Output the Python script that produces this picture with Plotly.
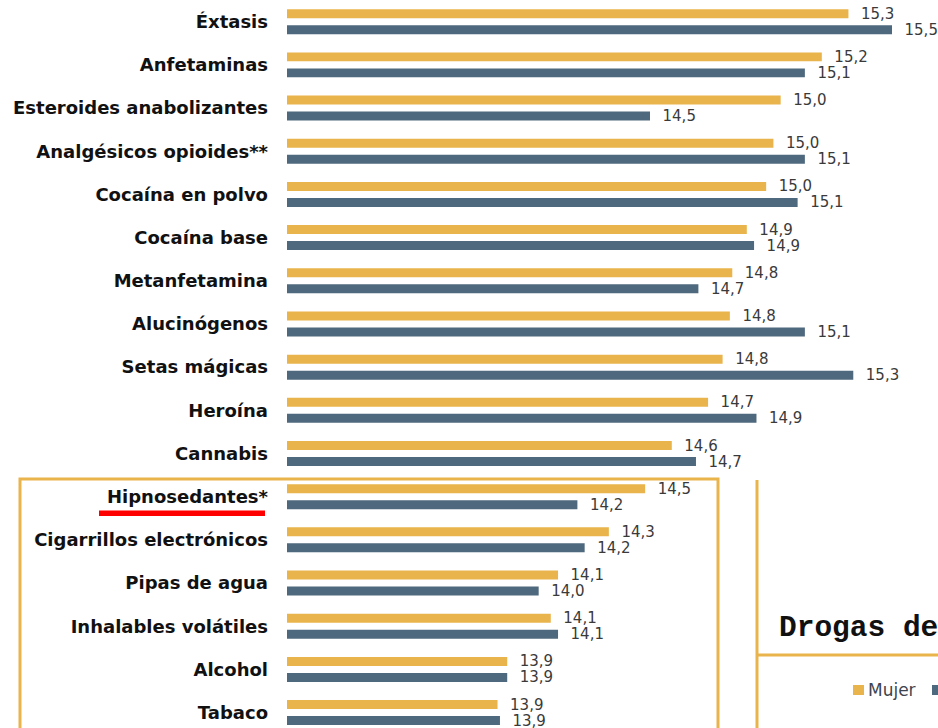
import plotly.graph_objects as go

# ---------------- data ----------------
categories = [
    "Éxtasis", "Anfetaminas", "Esteroides anabolizantes", "Analgésicos opioides**",
    "Cocaína en polvo", "Cocaína base", "Metanfetamina", "Alucinógenos",
    "Setas mágicas", "Heroína", "Cannabis", "Hipnosedantes*",
    "Cigarrillos electrónicos", "Pipas de agua", "Inhalables volátiles",
    "Alcohol", "Tabaco",
]
mujer = [15.32, 15.21, 15.04, 15.01, 14.98, 14.90, 14.84, 14.83, 14.80, 14.74,
         14.59, 14.48, 14.33, 14.12, 14.09, 13.91, 13.87]
hombre = [15.50, 15.14, 14.50, 15.14, 15.11, 14.93, 14.70, 15.14, 15.34, 14.94,
          14.69, 14.20, 14.23, 14.04, 14.12, 13.91, 13.88]
series_names = ["Mujer", "Hombre"]
title_fragment = "Drogas de"

# ---------------- styling ----------------
W, H = 938, 728
L = 287
GOLD = "#E9B44C"
SLATE = "#4E697D"
BOX = "#E9B44C"
PX_PER_UNIT = 242.0
XMIN = 13.0


def px(xp):
    return (xp - L) / (W - L)


def py(yp):
    return 1 - yp / H


fig = go.Figure()
for name, vals, col in [(series_names[0], mujer, GOLD), (series_names[1], hombre, SLATE)]:
    fig.add_trace(go.Bar(
        name=name, y=categories, x=vals, orientation="h",
        marker=dict(color=col, line=dict(width=0)),
        texttemplate="\u00a0\u00a0%{x:.1f}", textposition="outside",
        textfont=dict(family="DejaVu Sans", size=15, color="#3a3a3a"),
        constraintext="none", cliponaxis=True, hoverinfo="skip",
    ))

shapes = [
    # left box around lower categories
    dict(type="rect", xref="paper", yref="paper", x0=px(20), x1=px(718), y0=py(479), y1=py(800),
         line=dict(color=BOX, width=3), fillcolor="rgba(0,0,0,0)"),
    # right panel lines
    dict(type="line", xref="paper", yref="paper", x0=px(757), x1=px(757), y0=py(480), y1=py(800),
         line=dict(color=BOX, width=3)),
    dict(type="line", xref="paper", yref="paper", x0=px(757), x1=px(960), y0=py(655), y1=py(655),
         line=dict(color=BOX, width=3)),
    # red underline
    dict(type="rect", xref="paper", yref="paper", x0=px(99), x1=px(265), y0=py(516), y1=py(510.5),
         line=dict(width=0), fillcolor="#FF0000"),
    # legend squares
    dict(type="rect", xref="paper", yref="paper", x0=px(853), x1=px(864), y0=py(695), y1=py(685),
         line=dict(width=0), fillcolor=GOLD),
    dict(type="rect", xref="paper", yref="paper", x0=px(932), x1=px(943), y0=py(695), y1=py(685),
         line=dict(width=0), fillcolor=SLATE),
]

annotations = [
    dict(text=title_fragment, xref="paper", yref="paper", x=px(777), y=py(628),
         xanchor="left", yanchor="middle", showarrow=False,
         font=dict(family="Courier New, Liberation Mono, monospace", size=29.5, color="#111111", weight="bold")),
    dict(text=series_names[0], xref="paper", yref="paper", x=px(866), y=py(690),
         xanchor="left", yanchor="middle", showarrow=False,
         font=dict(family="DejaVu Sans", size=17, color="#3d4550")),
    dict(text=series_names[1], xref="paper", yref="paper", x=px(946), y=py(690),
         xanchor="left", yanchor="middle", showarrow=False,
         font=dict(family="DejaVu Sans", size=17, color="#3d4550")),
]

fig.update_layout(
    width=W, height=H,
    margin=dict(l=L, r=0, t=0, b=0, pad=0),
    paper_bgcolor="white", plot_bgcolor="white",
    barmode="group", bargap=0.259, bargroupgap=0.438,
    separators=",.",
    showlegend=False,
    hovermode=False,
    shapes=shapes, annotations=annotations,
    xaxis=dict(range=[XMIN, XMIN + (W - L) / PX_PER_UNIT], visible=False, fixedrange=True),
    yaxis=dict(type="category", categoryorder="array", categoryarray=categories,
               range=[16.357, -0.5025], showgrid=False, zeroline=False, showline=False,
               ticks="", ticklabelstandoff=18, automargin=False, fixedrange=True,
               tickfont=dict(family="DejaVu Sans", size=18, color="#111111", weight="bold")),
)

fig.write_html(
    "out.html",
    config={"displayModeBar": False, "staticPlot": True},
    post_script="document.body.style.margin='0';document.body.style.overflow='hidden';",
)
